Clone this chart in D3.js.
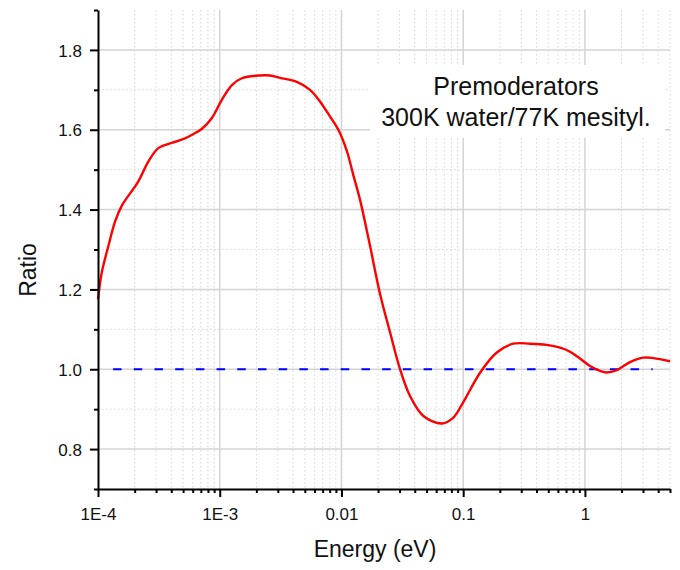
<!DOCTYPE html>
<html><head><meta charset="utf-8">
<script src="https://cdn.jsdelivr.net/npm/d3@7"></script>
<style>body{margin:0;background:#fff}svg{display:block}text{font-family:"Liberation Sans",Arial,sans-serif;fill:#111}</style>
</head><body><svg id="c" width="680" height="570"></svg>
<script>
const energy = [1.0e-4,1.07e-4,1.22e-4,1.38e-4,1.57e-4,2.14e-4,2.59e-4,3.13e-4,4.03e-4,4.87e-4,5.89e-4,7.11e-4,8.59e-4,1.04e-3,1.26e-3,1.52e-3,2.14e-3,2.59e-3,3.13e-3,4.30e-3,5.52e-3,6.66e-3,8.06e-3,9.43e-3,1.11e-2,1.25e-2,1.42e-2,1.72e-2,2.07e-2,2.51e-2,3.03e-2,3.66e-2,4.71e-2,6.67e-2,8.30e-2,0.100,0.138,0.189,0.258,0.355,0.486,0.625,0.755,0.910,1.10,1.33,1.51,1.83,2.35,3.02,3.65,5.0];
const ratio  = [1.175,1.24,1.31,1.37,1.41,1.47,1.52,1.554,1.567,1.575,1.587,1.602,1.629,1.675,1.712,1.729,1.736,1.736,1.730,1.720,1.700,1.671,1.633,1.600,1.546,1.487,1.425,1.308,1.19,1.092,1.0,0.933,0.883,0.864,0.879,0.917,0.992,1.042,1.064,1.064,1.061,1.054,1.044,1.027,1.008,0.996,0.992,0.998,1.018,1.029,1.028,1.02];
const refEnergy = [1.33e-4, 3.6];
const refRatio = [1.0, 1.0];
const xMajorTicks = [1e-4,1e-3,1e-2,1e-1,1];
const xTickLabels = ["1E-4","1E-3","0.01","0.1","1"];
const yMajorTicks = [0.8,1.0,1.2,1.4,1.6,1.8];
const yMinorTicks = [0.7,0.9,1.1,1.3,1.5,1.7,1.9];
const legendLines = ["Premoderators","300K water/77K mesityl."];

const svg = d3.select("#c");
const L=98, R=670, T=10, B=489;
const x = d3.scaleLog().domain([1e-4,5]).range([L,R]);
const y = d3.scaleLinear().domain([0.7,1.9]).range([B,T]);

const xMinor = [];
for (let d=-4; d<=0; d++) for (let m=2; m<=9; m++) { const v=m*Math.pow(10,d); if (v<=5.0001) xMinor.push(v); }

const g = svg.append("g");
g.selectAll(".vxm").data(xMinor).join("line")
  .attr("x1",d=>x(d)).attr("x2",d=>x(d)).attr("y1",T).attr("y2",B)
  .attr("stroke","#d6d6d6").attr("stroke-width",1).attr("stroke-dasharray","1.5,2.5");
g.selectAll(".hym").data(yMinorTicks.filter(v=>v>0.75&&v<1.85)).join("line")
  .attr("x1",L).attr("x2",R).attr("y1",d=>y(d)).attr("y2",d=>y(d))
  .attr("stroke","#d6d6d6").attr("stroke-width",1).attr("stroke-dasharray","1.5,2.5");
g.selectAll(".vx").data(xMajorTicks.slice(1)).join("line")
  .attr("x1",d=>x(d)).attr("x2",d=>x(d)).attr("y1",T).attr("y2",B)
  .attr("stroke","#d4d4d4").attr("stroke-width",1.5);
g.selectAll(".hy").data(yMajorTicks).join("line")
  .attr("x1",L).attr("x2",R).attr("y1",d=>y(d)).attr("y2",d=>y(d))
  .attr("stroke","#d4d4d4").attr("stroke-width",1.5);

svg.append("rect").attr("x",370).attr("y",65).attr("width",295).attr("height",73).attr("fill","#fff");
svg.append("g").selectAll("text").data(legendLines).join("text")
  .attr("x",516).attr("y",(d,i)=>95+i*31).attr("text-anchor","middle")
  .style("font-size","25px").text(d=>d);

svg.append("path").datum(refEnergy.map((e,i)=>[e,refRatio[i]]))
  .attr("d",d3.line().x(d=>x(d[0])).y(d=>y(d[1])))
  .attr("fill","none").attr("stroke","#0000ff").attr("stroke-width",2.2).attr("stroke-dasharray","8.5,12.2");

svg.append("path").datum(energy.map((e,i)=>[e,ratio[i]]))
  .attr("d",d3.line().x(d=>x(d[0])).y(d=>y(d[1])).curve(d3.curveCatmullRom.alpha(0.5)))
  .attr("fill","none").attr("stroke","#ff0000").attr("stroke-width",2.4);

const xAxis = d3.axisBottom(x).tickValues(xMajorTicks).tickFormat((d,i)=>xTickLabels[i]).tickSize(8).tickSizeOuter(0);
const xa = svg.append("g").attr("transform",`translate(0,${B})`).call(xAxis);
xa.attr("font-size",null).attr("font-family",null);
xa.select(".domain").attr("stroke","#000").attr("stroke-width",2);
xa.selectAll(".tick line").attr("stroke","#000").attr("stroke-width",2);
xa.selectAll(".tick text").style("font-size","17px").style("fill","#111").attr("dy",null).attr("y",31);
const xm = svg.append("g").attr("transform",`translate(0,${B})`).call(d3.axisBottom(x).tickValues(xMinor).tickFormat("").tickSize(4).tickSizeOuter(0));
xm.select(".domain").remove();
xm.selectAll(".tick line").attr("stroke","#000").attr("stroke-width",2);

const yAxis = d3.axisLeft(y).tickValues(yMajorTicks).tickFormat(d3.format(".1f")).tickSize(8).tickSizeOuter(0);
const ya = svg.append("g").attr("transform",`translate(${L},0)`).call(yAxis);
ya.attr("font-size",null).attr("font-family",null);
ya.select(".domain").attr("stroke","#000").attr("stroke-width",2);
ya.selectAll(".tick line").attr("stroke","#000").attr("stroke-width",2);
ya.selectAll(".tick text").style("font-size","17px").style("fill","#111").attr("x",-16).attr("dy","0.36em");
const ym = svg.append("g").attr("transform",`translate(${L},0)`).call(d3.axisLeft(y).tickValues(yMinorTicks).tickFormat("").tickSize(4).tickSizeOuter(0));
ym.select(".domain").remove();
ym.selectAll(".tick line").attr("stroke","#000").attr("stroke-width",2);

svg.append("text").attr("x",375).attr("y",557).attr("text-anchor","middle").style("font-size","23px").text("Energy (eV)");
svg.append("text").attr("transform","translate(36,270) rotate(-90)").attr("text-anchor","middle").style("font-size","23px").text("Ratio");
</script></body></html>
